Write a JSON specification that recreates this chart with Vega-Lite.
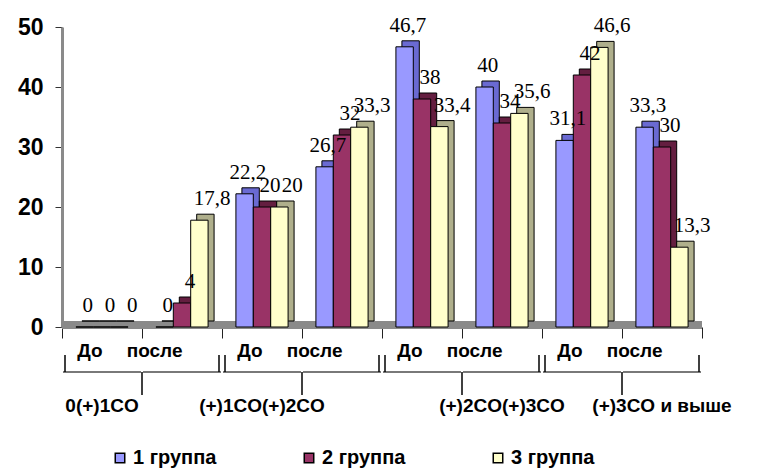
{
  "$schema": "https://vega.github.io/schema/vega-lite/v6.json",
  "width": 640,
  "height": 300,
  "autosize": {"type": "none"},
  "padding": {"left": 62, "top": 27, "right": 64, "bottom": 143},
  "background": "white",
  "datasets": {
    "bars": [
      {"cat": "1|До", "grp": "1 группа", "v": 0},
      {"cat": "1|До", "grp": "2 группа", "v": 0},
      {"cat": "1|До", "grp": "3 группа", "v": 0},
      {"cat": "1|после", "grp": "1 группа", "v": 0},
      {"cat": "1|после", "grp": "2 группа", "v": 4},
      {"cat": "1|после", "grp": "3 группа", "v": 17.8},
      {"cat": "2|До", "grp": "1 группа", "v": 22.2},
      {"cat": "2|До", "grp": "2 группа", "v": 20},
      {"cat": "2|До", "grp": "3 группа", "v": 20},
      {"cat": "2|после", "grp": "1 группа", "v": 26.7},
      {"cat": "2|после", "grp": "2 группа", "v": 32},
      {"cat": "2|после", "grp": "3 группа", "v": 33.3},
      {"cat": "3|До", "grp": "1 группа", "v": 46.7},
      {"cat": "3|До", "grp": "2 группа", "v": 38},
      {"cat": "3|До", "grp": "3 группа", "v": 33.4},
      {"cat": "3|после", "grp": "1 группа", "v": 40},
      {"cat": "3|после", "grp": "2 группа", "v": 34},
      {"cat": "3|после", "grp": "3 группа", "v": 35.6},
      {"cat": "4|До", "grp": "1 группа", "v": 31.1},
      {"cat": "4|До", "grp": "2 группа", "v": 42},
      {"cat": "4|До", "grp": "3 группа", "v": 46.6},
      {"cat": "4|после", "grp": "1 группа", "v": 33.3},
      {"cat": "4|после", "grp": "2 группа", "v": 30},
      {"cat": "4|после", "grp": "3 группа", "v": 13.3}
    ],
    "braces": [
      {"a": "1|До", "b": "1|после", "labcat": "1|До", "label": "0(+)1CO"},
      {"a": "2|До", "b": "2|после", "labcat": "2|До", "label": "(+)1CO(+)2CO"},
      {"a": "3|До", "b": "3|после", "labcat": "3|после", "label": "(+)2CO(+)3CO"},
      {"a": "4|До", "b": "4|после", "labcat": "4|после", "label": "(+)3CO и выше"}
    ]
  },
  "resolve": {"scale": {"xOffset": "independent"}},
  "layer": [
    {
      "data": {"name": "bars"},
      "mark": {"type": "rule", "color": "#8a8a8a", "strokeWidth": 7, "yOffset": -2},
      "encoding": {"y": {"datum": 0, "type": "quantitative", "scale": {"domain": [0, 50]}}}
    },
    {
      "data": {"name": "bars"},
      "mark": {"type": "bar", "yOffset": -6, "y2Offset": -6, "stroke": "#000", "strokeWidth": 1},
      "encoding": {
        "x": {"field": "cat", "type": "nominal"},
        "xOffset": {"field": "grp", "type": "nominal", "scale": {"paddingInner": 0, "paddingOuter": 0.8, "range": [6, 86]}},
        "y": {"field": "v", "type": "quantitative"},
        "fill": {"field": "grp", "type": "nominal", "scale": {"range": ["#6A6AD2", "#641E40", "#AFAF8C"]}, "legend": null}
      }
    },
    {
      "data": {"name": "bars"},
      "mark": {"type": "bar", "stroke": "#000", "strokeWidth": 1},
      "encoding": {
        "x": {
          "field": "cat", "type": "nominal", "sort": null,
          "scale": {"domain": ["1|До","1|после","2|До","2|после","3|До","3|после","4|До","4|после"], "paddingInner": 0, "paddingOuter": 0},
          "axis": {
            "title": null, "domain": false, "tickBand": "extent", "tickSize": 11, "tickColor": "#222", "tickWidth": 1,
            "labelExpr": "split(datum.label, '|')[1]", "labelAngle": 0,
            "labelFont": "Liberation Sans", "labelFontWeight": "bold", "labelFontSize": 19, "labelColor": "#000",
            "labelPadding": 12
          }
        },
        "xOffset": {"field": "grp", "type": "nominal", "scale": {"paddingInner": 0, "paddingOuter": 0.8}},
        "y": {
          "field": "v", "type": "quantitative",
          "scale": {"domain": [0, 50]},
          "axis": {
            "title": null, "values": [0, 10, 20, 30, 40, 50], "grid": false,
            "domainColor": "#8a8a8a", "domainWidth": 3, "tickSize": 7, "tickColor": "#333",
            "labelFont": "Liberation Sans", "labelFontWeight": "bold", "labelFontSize": 23, "labelColor": "#000",
            "labelPadding": 12
          }
        },
        "color": {
          "field": "grp", "type": "nominal",
          "scale": {"range": ["#9999FF", "#993366", "#FFFFCC"]},
          "legend": {
            "title": null, "orient": "none", "direction": "horizontal", "columns": 3,
            "legendX": 48, "legendY": 421,
            "symbolType": "square", "symbolSize": 90, "symbolStrokeColor": "#000", "symbolStrokeWidth": 1.5,
            "labelFont": "Liberation Sans", "labelFontWeight": "bold", "labelFontSize": 20, "labelColor": "#000",
            "labelOffset": 3, "columnPadding": 82
          }
        }
      }
    },
    {
      "data": {"name": "bars"},
      "mark": {"type": "text", "font": "Liberation Serif", "fontSize": 21, "color": "#000", "dx": 8, "dy": -15, "baseline": "alphabetic"},
      "encoding": {
        "x": {"field": "cat", "type": "nominal"},
        "xOffset": {"field": "grp", "type": "nominal", "scale": {"paddingInner": 0, "paddingOuter": 0.8}},
        "y": {"field": "v", "type": "quantitative"},
        "text": {"field": "v", "type": "quantitative", "format": "~g"}
      }
    },
    {
      "data": {"name": "bars"},
      "transform": [{"filter": "datum.grp == '1 группа'"}],
      "mark": {"type": "tick", "orient": "horizontal", "size": 78, "thickness": 1.5, "color": "#000", "yOffset": 45},
      "encoding": {
        "x": {"field": "cat", "type": "nominal"},
        "y": {"datum": 0, "type": "quantitative"}
      }
    },
    {
      "data": {"name": "braces"},
      "mark": {"type": "rule", "color": "#000", "strokeWidth": 1.5, "yOffset": 45, "y2Offset": 68},
      "encoding": {
        "x": {"field": "b", "type": "nominal", "bandPosition": 0},
        "y": {"datum": 0, "type": "quantitative"},
        "y2": {"datum": 0}
      }
    },
    {
      "data": {"name": "braces"},
      "mark": {"type": "rule", "color": "#000", "strokeWidth": 1.5, "yOffset": 28, "y2Offset": 45, "xOffset": 3},
      "encoding": {
        "x": {"field": "a", "type": "nominal", "bandPosition": 0},
        "y": {"datum": 0, "type": "quantitative"},
        "y2": {"datum": 0}
      }
    },
    {
      "data": {"name": "braces"},
      "mark": {"type": "rule", "color": "#000", "strokeWidth": 1.5, "yOffset": 28, "y2Offset": 45, "xOffset": -3},
      "encoding": {
        "x": {"field": "b", "type": "nominal", "bandPosition": 1},
        "y": {"datum": 0, "type": "quantitative"},
        "y2": {"datum": 0}
      }
    },
    {
      "data": {"name": "braces"},
      "mark": {"type": "text", "font": "Liberation Sans", "fontWeight": "bold", "fontSize": 19, "color": "#000", "yOffset": 79, "baseline": "middle"},
      "encoding": {
        "x": {"field": "labcat", "type": "nominal", "bandPosition": 0.5},
        "y": {"datum": 0, "type": "quantitative"},
        "text": {"field": "label"}
      }
    }
  ],
  "config": {
    "view": {"stroke": null},
    "locale": {"number": {"decimal": ",", "thousands": " ", "grouping": [3], "currency": ["", ""]}}
  }
}
